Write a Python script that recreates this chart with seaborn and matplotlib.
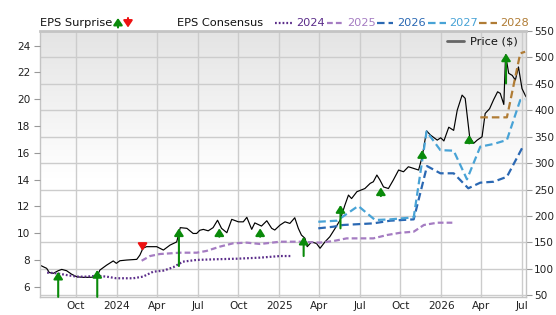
import numpy as np
import pandas as pd
import matplotlib
matplotlib.use("Agg")
import matplotlib.pyplot as plt
import matplotlib.dates as mdates
from matplotlib.lines import Line2D
from matplotlib.patches import FancyArrowPatch
from matplotlib.colors import LinearSegmentedColormap
import seaborn as sns

# ---------------- data ----------------
price_dates = [
    "2023-07-12", "2023-07-27", "2023-08-02", "2023-08-11", "2023-08-22", "2023-08-30",
    "2023-09-10", "2023-09-21", "2023-10-03", "2023-10-17", "2023-11-02", "2023-11-17",
    "2023-11-24", "2023-12-09", "2023-12-24", "2023-12-31", "2024-01-08", "2024-01-23",
    "2024-02-15", "2024-02-22", "2024-02-29", "2024-03-08", "2024-03-31", "2024-04-15",
    "2024-04-30", "2024-05-15", "2024-05-23", "2024-06-07", "2024-06-21", "2024-06-29",
    "2024-07-06", "2024-07-14", "2024-07-25", "2024-08-05", "2024-08-15", "2024-08-24",
    "2024-09-05", "2024-09-16", "2024-10-01", "2024-10-12", "2024-10-20", "2024-10-31",
    "2024-11-07", "2024-11-22", "2024-12-04", "2024-12-15", "2024-12-22", "2025-01-03",
    "2025-01-14", "2025-01-25", "2025-02-05", "2025-02-13", "2025-02-20", "2025-02-28",
    "2025-03-05", "2025-03-15", "2025-03-26", "2025-04-03", "2025-04-14", "2025-04-25",
    "2025-05-07", "2025-05-18", "2025-05-29", "2025-06-06", "2025-06-13", "2025-06-25",
    "2025-07-13", "2025-07-25", "2025-08-01", "2025-08-09", "2025-08-16", "2025-08-24",
    "2025-09-04", "2025-09-15", "2025-09-27", "2025-10-08", "2025-10-19", "2025-10-31",
    "2025-11-11", "2025-11-19", "2025-11-29", "2025-12-08", "2025-12-23", "2025-12-31",
    "2026-01-07", "2026-01-18", "2026-01-29", "2026-02-06", "2026-02-17", "2026-02-24",
    "2026-03-06", "2026-03-15", "2026-03-23", "2026-04-03", "2026-04-10", "2026-04-20",
    "2026-04-29", "2026-05-08", "2026-05-14", "2026-05-22", "2026-05-26", "2026-06-02",
    "2026-06-10", "2026-06-17", "2026-06-24", "2026-07-02", "2026-07-11",
]
price_values = [
    107, 101, 93, 91.6, 96.5, 99,
    96.5, 90, 85, 84, 84, 85,
    97.8, 107, 115, 110.5, 115.4, 116.7,
    118, 126, 139, 142, 142, 135.6,
    145, 151, 178, 176.7, 167, 167,
    173, 174.7, 172, 178, 192, 176.7,
    168.4, 193.7, 189, 189, 197.5, 174.8,
    187, 181, 191, 176.7, 173.5, 183,
    189, 186, 196.7, 176.7, 164, 157.8,
    142, 151, 148, 139, 151, 160.8,
    176.7, 192, 220.7, 239.6, 233, 246,
    252, 261.8, 264.8, 277.5, 268, 255,
    252, 268, 287, 283.7, 293.2, 290,
    287, 312, 361, 353, 343.6, 348,
    342, 368, 362, 400, 428.7, 422.5,
    350, 337.4, 343.6, 349.9, 394, 403,
    420, 435, 432, 411, 505, 470,
    466, 457, 482, 441, 425.5,
]

c2024_dates = ["2023-07-28", "2023-08-19", "2023-09-10", "2023-10-03", "2023-10-25", "2023-11-17",
               "2023-12-09", "2023-12-31", "2024-02-07", "2024-02-29", "2024-03-23", "2024-04-15",
               "2024-05-07", "2024-05-29", "2024-06-29", "2024-08-13", "2024-09-27", "2024-11-19",
               "2025-01-03", "2025-01-29"]
c2024_values = [7.05, 7.0, 6.87, 6.75, 6.75, 6.82, 6.75, 6.63, 6.63, 6.75, 7.12, 7.2,
                7.45, 7.87, 8.0, 8.05, 8.09, 8.17, 8.29, 8.29]

c2025_dates = ["2024-02-26", "2024-03-16", "2024-04-07", "2024-04-30", "2024-05-23", "2024-06-29",
               "2024-07-21", "2024-08-20", "2024-09-19", "2024-10-20", "2024-11-19", "2025-01-03",
               "2025-02-17", "2025-04-03", "2025-05-03", "2025-06-02", "2025-08-01", "2025-09-01",
               "2025-10-01", "2025-10-31", "2025-11-23", "2025-12-23", "2026-01-26"]
c2025_values = [7.94, 8.29, 8.44, 8.49, 8.54, 8.54, 8.67, 8.99, 9.24, 9.29, 9.19, 9.36,
                9.36, 9.29, 9.41, 9.61, 9.61, 9.86, 10.03, 10.11, 10.61, 10.78, 10.78]

c2026_dates = ["2025-03-30", "2025-05-03", "2025-05-25", "2025-08-01", "2025-09-08", "2025-10-31",
               "2025-11-30", "2025-12-30", "2026-01-29", "2026-03-03", "2026-03-30", "2026-04-29",
               "2026-05-29", "2026-07-02", "2026-07-09"]
c2026_values = [10.36, 10.48, 10.61, 10.73, 10.93, 11.03, 15.01, 14.47, 14.47, 13.35, 13.77, 13.84,
                14.21, 16.34, 16.34]

c2027_dates = ["2025-03-30", "2025-05-11", "2025-06-28", "2025-08-05", "2025-09-08", "2025-10-31",
               "2025-11-29", "2025-12-30", "2026-01-29", "2026-02-28", "2026-03-30", "2026-04-29",
               "2026-05-29", "2026-06-28", "2026-07-09"]
c2027_values = [10.85, 10.93, 12.03, 10.98, 11.03, 11.18, 17.6, 16.2, 16.16, 14.02, 16.46, 16.66,
                16.96, 19.94, 20.0]

c2028_dates = ["2026-03-30", "2026-05-29", "2026-06-28", "2026-07-09"]
c2028_values = [18.65, 18.65, 23.43, 23.55]

# EPS surprise arrows (drawn on the price scale): date, base, tip, beat(True)/miss(False)
surprise_dates = ["2023-08-22", "2023-11-18", "2024-02-28", "2024-05-20", "2024-08-19", "2024-11-19",
                  "2025-02-25", "2025-05-19", "2025-08-18", "2025-11-19", "2026-03-05", "2026-05-27"]
surprise_base = [47, 47, 146.3, 105.4, 160.8, 160.8, 124.3, 176.7, 237.7, 309, 337.4, 450.8]
surprise_tip = [94.6, 97.9, 134, 176.7, 176.7, 176.7, 160.8, 220.7, 254.2, 324.7, 353, 507.5]
surprise_beat = [True, True, False, True, True, True, True, True, True, True, True, True]

xtick_dates = ["2023-10-01", "2024-01-01", "2024-04-01", "2024-07-01", "2024-10-01", "2025-01-01",
               "2025-04-01", "2025-07-01", "2025-10-01", "2026-01-01", "2026-04-01", "2026-07-01"]
xtick_labels = ["Oct", "2024", "Apr", "Jul", "Oct", "2025", "Apr", "Jul", "Oct", "2026", "Apr", "Jul"]
eps_ticks = [6, 8, 10, 12, 14, 16, 18, 20, 22, 24]
price_ticks = [50, 100, 150, 200, 250, 300, 350, 400, 450, 500, 550]

consensus_years = ["2024", "2025", "2026", "2027", "2028"]

# ---------------- styling ----------------
sns.set_theme(style="white")
plt.rcParams["font.family"] = ["DejaVu Sans"]

W, H = 556, 315
fig = plt.figure(figsize=(W / 100, H / 100), dpi=100)
fig.patch.set_facecolor("white")

L, R, T, B = 40, 526, 31, 297
rect = [L / W, 1 - B / H, (R - L) / W, (B - T) / H]

# background gradient
bg = fig.add_axes(rect, zorder=-1)
grad = np.linspace(0, 1, 256).reshape(-1, 1)
cmap = LinearSegmentedColormap.from_list("g", [(0.0, "#e4e4e4"), (0.55, "#ffffff"), (1.0, "#ffffff")])
bg.imshow(grad, aspect="auto", cmap=cmap, extent=[0, 1, 0, 1], origin="upper")
bg.set_axis_off()

ax = fig.add_axes(rect)
ax.patch.set_visible(False)
ax2 = ax.twinx()
ax.yaxis.tick_right()
ax2.yaxis.tick_left()

colors = {"2024": "#5b2d8a", "2025": "#a57cc2", "2026": "#2a68b3", "2027": "#48a3d6", "2028": "#b07c35"}
dashes = {"2024": (0.8, 0.9), "2025": (2.6, 1.4), "2026": (3.4, 1.8), "2027": (3.4, 1.8), "2028": (3.4, 1.8)}

# price line
sns.lineplot(x=pd.to_datetime(price_dates), y=price_values, ax=ax, color="black", lw=0.85, legend=False)

series = {
    "2024": (c2024_dates, c2024_values),
    "2025": (c2025_dates, c2025_values),
    "2026": (c2026_dates, c2026_values),
    "2027": (c2027_dates, c2027_values),
    "2028": (c2028_dates, c2028_values),
}
for yr in consensus_years:
    d, v = series[yr]
    sns.lineplot(x=pd.to_datetime(d), y=v, ax=ax2, color=colors[yr], lw=1.6, legend=False)
    ln = ax2.lines[-1]
    ln.set_dashes(dashes[yr])
    ln.set_dash_capstyle("butt")

# surprise arrows
for d, b, t, beat in zip(surprise_dates, surprise_base, surprise_tip, surprise_beat):
    xn = mdates.date2num(pd.Timestamp(d))
    col = "#0a8a0a" if beat else "#ee1111"
    ax2.annotate("", xy=(xn, t), xytext=(xn, b), xycoords=ax.transData, textcoords=ax.transData,
                 arrowprops=dict(arrowstyle="-|>,head_width=2.7,head_length=4.2", mutation_scale=1,
                                 color=col, lw=1.5, shrinkA=0, shrinkB=0))

# axes limits and ticks
xt = pd.to_datetime(xtick_dates)
ax.set_xlim(pd.Timestamp("2023-07-12"), pd.Timestamp("2026-07-11"))
ax.set_ylim(46.8, 549.7)
ax2.set_ylim(5.23, 25.1)
ax.set_xticks(mdates.date2num(xt))
ax.set_xticklabels(xtick_labels)
ax.set_yticks(price_ticks)
ax.set_yticklabels([str(v) for v in price_ticks])
ax2.set_yticks(eps_ticks)
ax2.set_yticklabels([str(v) for v in eps_ticks])
ax.set_xlabel("")
ax.set_ylabel("")
ax2.set_ylabel("")

ax.grid(True, color="#cccccc", lw=1.0)
ax.set_axisbelow(True)
ax2.grid(False)

for s in ax.spines.values():
    s.set_color("#c4c4c4")
    s.set_linewidth(1.0)
ax.spines["top"].set_linewidth(2.0)
for s in ax2.spines.values():
    s.set_visible(False)

ax.tick_params(axis="y", direction="out", length=4, width=0.8, color="#999999", labelsize=7.6,
               pad=2, labelcolor="#222222")
ax2.tick_params(axis="y", direction="out", length=4, width=0.8, color="#999999", labelsize=7.6,
                pad=3, labelcolor="#222222")
ax.tick_params(axis="x", direction="out", length=0, labelsize=7.6, pad=3, labelcolor="#222222")

# header legend
fs = 8.2
yh = 1 - 22.5 / H
fig.text(L / W, yh, "EPS Surprise", fontsize=fs, va="center", ha="left", color="#111111")
fig.add_artist(FancyArrowPatch((118 / W, 1 - 27.5 / H), (118 / W, 1 - 18 / H), transform=fig.transFigure,
                               arrowstyle="-|>,head_width=2.7,head_length=4", color="#0a8a0a", lw=1.5,
                               shrinkA=0, shrinkB=0))
fig.add_artist(FancyArrowPatch((128 / W, 1 - 18 / H), (128 / W, 1 - 27.5 / H), transform=fig.transFigure,
                               arrowstyle="-|>,head_width=2.7,head_length=4", color="#ee1111", lw=1.5,
                               shrinkA=0, shrinkB=0))
fig.text(177 / W, yh, "EPS Consensus", fontsize=fs, va="center", ha="left", color="#111111")

leg_pos = {"2024": (275, 293, 296), "2025": (327, 343, 347), "2026": (377, 393, 397),
           "2027": (428, 446, 449), "2028": (479, 497, 500)}
for yr in consensus_years:
    x0, x1, xt0 = leg_pos[yr]
    ln = Line2D([x0 / W, x1 / W], [yh, yh], transform=fig.transFigure, color=colors[yr], lw=1.6)
    ln.set_dashes(dashes[yr])
    fig.add_artist(ln)
    fig.text(xt0 / W, yh, yr, fontsize=fs, va="center", ha="left", color=colors[yr])

# price legend inside plot
fig.add_artist(Line2D([447 / W, 464 / W], [1 - 41 / H, 1 - 41 / H], transform=fig.transFigure,
                      color="#666666", lw=2.0))
fig.text(470 / W, 1 - 41 / H, "Price ($)", fontsize=fs, va="center", ha="left", color="#111111")

fig.savefig("out.png", dpi=100)
